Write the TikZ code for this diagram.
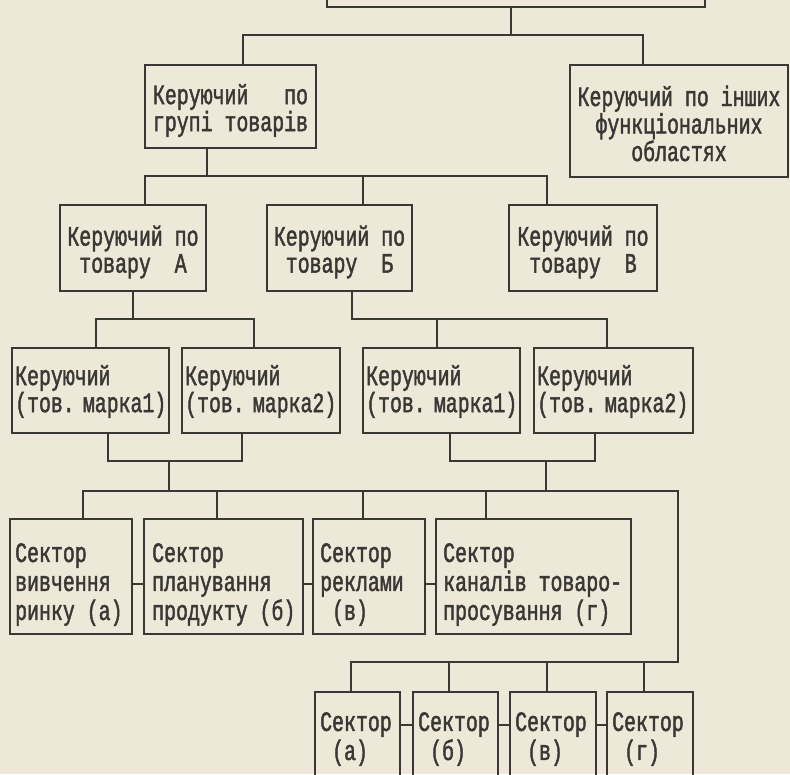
\documentclass[tikz,border=0pt]{standalone}
\usepackage{fontspec}
\newfontfamily\tw[FakeStretch=0.71,FakeBold=1.6]{Liberation Mono}
\newfontfamily\twn[FakeStretch=0.709,FakeBold=1.6,WordSpace=0.35]{Liberation Mono}
\definecolor{paper}{RGB}{237,232,216}
\definecolor{ink}{RGB}{58,56,52}
% centred text: #1 text options, #2 name, #3 left, #4 top, #5 right, #6 bottom, #7 text shift, #8 text
\newcommand\cbox[8][]{%
  \node[frame,minimum width={(#5-#3)*1pt},minimum height={(#6-#4)*1pt}]
    (#2) at ({(#3+#5)/2},{(#4+#6)/2}) {};
  \node[txt,#1] (#2t) at ({(#3+#5)/2},{(#4+#6)/2+#7}) {#8};}
% left text: #1 text options, #2 name, #3 left, #4 top, #5 right, #6 bottom, #7 pad, #8 text shift, #9 text
\newcommand\lbox[9][]{%
  \node[frame,minimum width={(#5-#3)*1pt},minimum height={(#6-#4)*1pt}]
    (#2) at ({(#3+#5)/2},{(#4+#6)/2}) {};
  \node[txt,align=left,anchor=west,#1] (#2t) at ({#3+#7},{(#4+#6)/2+#8}) {#9};}
\begin{document}
\begin{tikzpicture}[x=1pt,y=-1pt,
  frame/.style={draw=ink,line width=1.5pt,inner sep=0pt},
  txt/.style={inner sep=0pt,text=ink,align=center,
    font=\tw\fontsize{28}{27}\selectfont},
  brand/.style={font=\twn\fontsize{28}{25}\selectfont},
  sect/.style={font=\tw\fontsize{28}{29}\selectfont},
  wire/.style={draw=ink,line width=1.5pt}]
\useasboundingbox (0,0) rectangle (790,774);
\fill[paper] (0,0) rectangle (790,774);
\clip (0,0) rectangle (790,774);
% boxes
\node[frame,minimum width=378pt,minimum height=67pt] (T) at (516,-26.5) {};
\cbox{G}{145}{65}{316}{148}{4}{Керуючий~~~по\\групі товарів}
\cbox[font=\tw\fontsize{28}{27.5}\selectfont]{O}{570}{65}{788}{177}{2.5}{Керуючий по інших\\функціональних\\областях}
\cbox{A}{60}{205}{206}{291}{4}{Керуючий по\\товару~~А}
\cbox{B}{267}{205}{412}{291}{4}{Керуючий по\\товару~~Б}
\cbox{V}{509}{205}{657}{291}{4}{Керуючий по\\товару~~В}
\lbox[brand]{M1}{12}{348}{169}{433}{3}{1}{Керуючий\\(тов. марка1)}
\lbox[brand]{M2}{182}{348}{340}{433}{3}{1}{Керуючий\\(тов. марка2)}
\lbox[brand]{M3}{363}{348}{520}{433}{3}{1}{Керуючий\\(тов. марка1)}
\lbox[brand]{M4}{534}{348}{693}{433}{3}{1}{Керуючий\\(тов. марка2)}
\lbox[sect]{S1}{10}{519}{132}{634}{5}{8}{Сектор\\вивчення\\ринку (а)}
\lbox[sect]{S2}{144}{519}{303}{634}{8}{8}{Сектор\\планування\\продукту (б)}
\lbox[sect]{S3}{313}{519}{425}{634}{7}{8}{Сектор\\реклами\\~(в)}
\lbox[sect]{S4}{436}{519}{631}{634}{7}{8}{Сектор\\каналів товаро-\\просування (г)}
\lbox[sect]{R1}{315}{692}{400}{781}{5}{2.5}{Сектор\\~(а)}
\lbox[sect]{R2}{413}{692}{498}{781}{5}{2.5}{Сектор\\~(б)}
\lbox[sect]{R3}{510}{692}{596}{781}{5}{2.5}{Сектор\\~(в)}
\lbox[sect]{R4}{607}{692}{693}{781}{5}{2.5}{Сектор\\~(г)}
% junctions
\coordinate (j0) at (511,35); \coordinate (j0l) at (243,35); \coordinate (j0r) at (643,35);
\coordinate (j1) at (207,176); \coordinate (j1l) at (145,176); \coordinate (j1m) at (363,176); \coordinate (j1r) at (547,176);
\coordinate (j2) at (133,319); \coordinate (j2l) at (96,319); \coordinate (j2r) at (254,319);
\coordinate (j3) at (352,319); \coordinate (j3m) at (437,319); \coordinate (j3r) at (607,319);
\coordinate (j4) at (169,461); \coordinate (j4l) at (108,461); \coordinate (j4r) at (242,461);
\coordinate (j5) at (546,461); \coordinate (j5l) at (450,461); \coordinate (j5r) at (595,461);
\coordinate (j6a) at (83,491); \coordinate (j6b) at (217,491); \coordinate (j6c) at (363,491);
\coordinate (j6d) at (486,491); \coordinate (j6e) at (678,491);
\coordinate (j6x) at (169,491); \coordinate (j6y) at (546,491);
\coordinate (j7a) at (351,662); \coordinate (j7b) at (449,662); \coordinate (j7c) at (547,662);
\coordinate (j7d) at (644,662); \coordinate (j7e) at (678,662);
\coordinate (lkS) at (0,584); \coordinate (lkR) at (0,725);
% connectors
\draw[wire] (T.south -| j0) -- (j0);
\draw[wire] (G.north -| j0l) -- (j0l) -- (j0r) -- (O.north -| j0r);
\draw[wire] (G.south -| j1) -- (j1);
\draw[wire] (A.north -| j1l) -- (j1l) -- (j1r) -- (V.north -| j1r);
\draw[wire] (j1m) -- (B.north -| j1m);
\draw[wire] (A.south -| j2) -- (j2);
\draw[wire] (M1.north -| j2l) -- (j2l) -- (j2r) -- (M2.north -| j2r);
\draw[wire] (B.south -| j3) -- (j3) -- (j3r) -- (M4.north -| j3r);
\draw[wire] (j3m) -- (M3.north -| j3m);
\draw[wire] (M1.south -| j4l) -- (j4l) -- (j4r) -- (M2.south -| j4r);
\draw[wire] (j4) -- (j6x);
\draw[wire] (M3.south -| j5l) -- (j5l) -- (j5r) -- (M4.south -| j5r);
\draw[wire] (j5) -- (j6y);
\draw[wire] (S1.north -| j6a) -- (j6a) -- (j6e) -- (j7e) -- (j7a) -- (R1.north -| j7a);
\draw[wire] (j6b) -- (S2.north -| j6b);
\draw[wire] (j6c) -- (S3.north -| j6c);
\draw[wire] (j6d) -- (S4.north -| j6d);
\draw[wire] (j7b) -- (R2.north -| j7b);
\draw[wire] (j7c) -- (R3.north -| j7c);
\draw[wire] (j7d) -- (R4.north -| j7d);
\draw[wire] (S1.east |- lkS) -- (S2.west |- lkS);
\draw[wire] (S2.east |- lkS) -- (S3.west |- lkS);
\draw[wire] (S3.east |- lkS) -- (S4.west |- lkS);
\draw[wire] (R1.east |- lkR) -- (R2.west |- lkR);
\draw[wire] (R2.east |- lkR) -- (R3.west |- lkR);
\draw[wire] (R3.east |- lkR) -- (R4.west |- lkR);
\end{tikzpicture}
\end{document}
